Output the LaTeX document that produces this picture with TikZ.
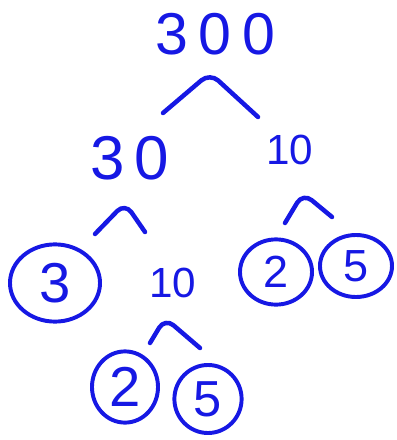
\documentclass[tikz,border=0pt]{standalone}
\usepackage{fontspec}
\setmainfont{Liberation Sans}
\usepackage{tikz}
\usetikzlibrary{shapes.geometric}
\definecolor{inkBlue}{RGB}{22,24,228}

\begin{document}
\begin{tikzpicture}[x=0.025cm,y=-0.025cm,
  num/.style={text=inkBlue,inner sep=0pt},
  ring/.style={ellipse,draw=inkBlue,line width=2.8pt,text=inkBlue,inner sep=0pt},
  caret/.style={draw=inkBlue,line width=3.2pt,line cap=round,line join=round,rounded corners=8pt}
]
  \useasboundingbox (0,0) rectangle (396,440);

  % numbers
  \node[num,font=\fontsize{42}{42}\selectfont\addfontfeatures{LetterSpace=18}](n300) at (215,34) {300};
  \node[num,font=\fontsize{44}{44}\selectfont\addfontfeatures{LetterSpace=16}](n30) at (130,158) {30};
  \node[num,font=\fontsize{30}{30}\selectfont](n10a) at (290,150) {10};
  \node[num,font=\fontsize{30}{30}\selectfont](n10b) at (173,283) {10};

  % primes
  \node[ring,minimum width=2.25cm,minimum height=1.93cm,font=\fontsize{40}{40}\selectfont](c3) at (55,283) {3};
  \node[ring,minimum width=1.8cm,minimum height=1.63cm,font=\fontsize{32}{32}\selectfont](c2a) at (276,272) {2};
  \node[ring,minimum width=1.8cm,minimum height=1.55cm,font=\fontsize{32}{32}\selectfont](c5a) at (356,266) {5};
  \node[ring,minimum width=1.65cm,minimum height=1.78cm,font=\fontsize{40}{40}\selectfont](c2b) at (125,387) {2};
  \node[ring,minimum width=1.68cm,minimum height=1.7cm,font=\fontsize{36}{36}\selectfont](c5b) at (208,399) {5};

  % branch marks
  \coordinate (k300l) at (163,113); \coordinate (k300) at (210,73); \coordinate (k300r) at (258,117);
  \coordinate (k30l) at (95,234);   \coordinate (k30) at (125,203);  \coordinate (k30r) at (145,232);
  \coordinate (k10al) at (285,223); \coordinate (k10a) at (303,193); \coordinate (k10ar) at (332,217);
  \coordinate (k10bl) at (150,343); \coordinate (k10b) at (165,318); \coordinate (k10br) at (200,348);

  \draw[caret] (k300l) -- (k300) -- (k300r);
  \draw[caret] (k30l) -- (k30) -- (k30r);
  \draw[caret] (k10al) -- (k10a) -- (k10ar);
  \draw[caret] (k10bl) -- (k10b) -- (k10br);
\end{tikzpicture}
\end{document}
